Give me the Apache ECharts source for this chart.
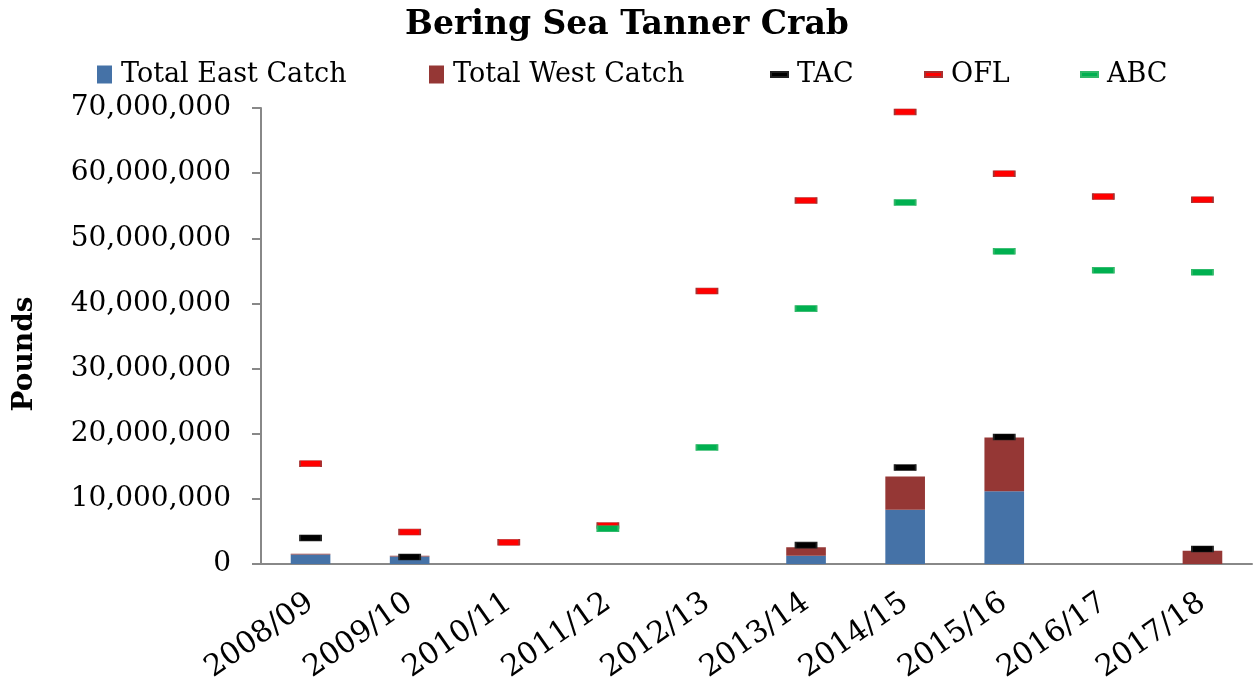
<!DOCTYPE html>
<html>
<head>
<meta charset="utf-8">
<title>Bering Sea Tanner Crab</title>
<script src="https://cdn.jsdelivr.net/npm/echarts@6/dist/echarts.min.js"></script>
<style>
  html, body { margin: 0; padding: 0; background: #fff; }
  #main { width: 1254px; height: 690px; }
</style>
</head>
<body>
<div id="main"></div>
<script>
// seasons
var seasons = ['2008/09', '2009/10', '2010/11', '2011/12', '2012/13',
               '2013/14', '2014/15', '2015/16', '2016/17', '2017/18'];
// catch (pounds), stacked bars
var eastCatch = [1450000, 1150000, 0, 0, 0, 1270000, 8330000, 11150000, 0, 0];
var westCatch = [130000, 120000, 0, 0, 0, 1290000, 5120000, 8250000, 0, 2040000];
// reference points (pounds), null = none that season
var tac = [4000000, 1070000, null, null, null, 2900000, 14800000, 19500000, null, 2300000];
var ofl = [15400000, 4900000, 3330000, 5900000, 41900000, 55800000, 69400000, 59900000, 56400000, 55900000];
var abc = [null, null, null, 5400000, 17900000, 39200000, 55500000, 48000000, 45100000, 44800000];
// y axis ticks
var yMin = 0;
var yMax = 70000000;
var yStep = 10000000;

var font = 'DejaVu Serif';
var chart = echarts.init(document.getElementById('main'));

function dash(name, data, color, border){//horizontal dash marker
  return {
    name: name,
    type: 'scatter',
    data: data,
    symbol: 'rect',
    symbolSize: [21, 6],
    z: 5,
    itemStyle: { color: color, borderColor: border, borderWidth: 1, opacity: 1 }
  };
}

var legendText = { fontFamily: font, fontSize: 27, color: '#000', padding: [0, 0, 0, 4] };

var option = {
  animation: false,
  backgroundColor: '#fff',
  title: {
    text: 'Bering Sea Tanner Crab',
    left: 'center',
    top: 4,
    textStyle: { fontFamily: font, fontSize: 33, fontWeight: 'bold', color: '#000' }
  },
  legend: [
    { data: ['Total East Catch'], left: 92, top: 56, itemWidth: 15, itemHeight: 18, icon: 'rect', textStyle: legendText },
    { data: ['Total West Catch'], left: 424, top: 56, itemWidth: 15, itemHeight: 18, icon: 'rect', textStyle: legendText },
    { data: ['TAC'], left: 765, top: 56, itemWidth: 17, itemHeight: 5, icon: 'rect', textStyle: legendText },
    { data: ['OFL'], left: 919, top: 56, itemWidth: 17, itemHeight: 5, icon: 'rect', textStyle: legendText },
    { data: ['ABC'], left: 1075, top: 56, itemWidth: 17, itemHeight: 5, icon: 'rect', textStyle: legendText }
  ],
  grid: { left: 261, right: 2, top: 108, bottom: 126 },
  xAxis: {
    type: 'category',
    data: seasons,
    axisLine: { lineStyle: { color: '#888', width: 2 } },
    axisTick: { length: 9, lineStyle: { color: '#888', width: 2 } },
    axisLabel: { rotate: 35, margin: 36, fontFamily: font, fontSize: 30, color: '#000', interval: 0 }
  },
  yAxis: {
    type: 'value',
    min: yMin,
    max: yMax,
    interval: yStep,
    name: 'Pounds',
    nameLocation: 'middle',
    nameGap: 222,
    nameTextStyle: { fontFamily: font, fontSize: 28, fontWeight: 'bold', color: '#000', padding: [0, 36, 0, 0] },
    splitLine: { show: false },
    axisLine: { show: true, lineStyle: { color: '#888', width: 2 } },
    axisTick: { show: true, length: 9, lineStyle: { color: '#888', width: 2 } },
    axisLabel: {
      margin: 30,
      fontFamily: font,
      fontSize: 28,
      color: '#000',
      formatter: function (v) { return v.toLocaleString('en-US'); }
    }
  },
  series: [
    { name: 'Total East Catch', type: 'bar', stack: 'catch', data: eastCatch, barWidth: '40%',
      itemStyle: { color: '#4572A7' } },
    { name: 'Total West Catch', type: 'bar', stack: 'catch', data: westCatch, barWidth: '40%',
      itemStyle: { color: '#953735' } },
    dash('TAC', tac, '#000000', '#222222'),
    dash('OFL', ofl, '#ff0000', '#a83030'),
    dash('ABC', abc, '#00b050', '#30b868')
  ]
};

chart.setOption(option);
</script>
</body>
</html>
